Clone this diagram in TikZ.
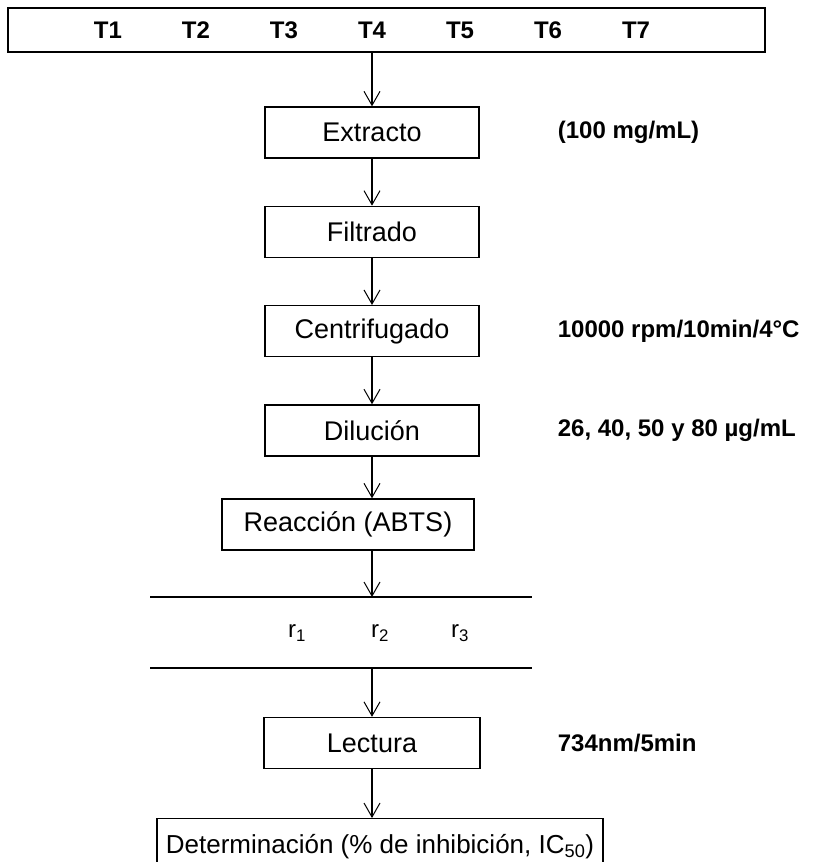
\documentclass[tikz,border=0pt]{standalone}
\usepackage{fontspec}
\setmainfont{Liberation Sans}
\usetikzlibrary{arrows.meta,positioning,calc}
\tikzset{
  stepbox/.style={rectangle, draw, line width=1.3pt, align=center, minimum height=51pt, minimum width=214pt, font=\fontsize{27}{32}\selectfont},
  sidenote/.style={anchor=west, inner sep=0pt, font=\bfseries\fontsize{24}{28}\selectfont},
  tlab/.style={font=\bfseries\fontsize{24}{28}\selectfont},
  rlab/.style={font=\fontsize{24}{28}\selectfont},
  arrow/.style={-{Straight Barb[length=14pt,width=16pt,line width=1pt]}, line width=1.1pt},
  rule/.style={line width=1.6pt}
}
\begin{document}
\begin{tikzpicture}[x=1pt, y=-1pt, node distance=47pt]
  \useasboundingbox (0,0) rectangle (816,862);
  % treatments
  \node[draw, line width=1.3pt, minimum width=757pt, minimum height=44pt] (trat) at (386.5,30) {};
  \foreach \i/\x in {1/108,2/196,3/284,4/372,5/460,6/548,7/636}
    \node[tlab] (t\i) at (\x,30) {T\i};
  % steps
  \node[stepbox] (ext) at (372,132.5) {Extracto};
  \node[stepbox, below=of ext] (fil) {Filtrado};
  \node[stepbox, below=of fil] (cen) {Centrifugado};
  \node[stepbox, below=of cen] (dil) {Dilución};
  \node[stepbox, minimum width=252pt] (reac) at (348,524.5) {Reacción (ABTS)};
  % replicates
  \coordinate (l1w) at (150,597);
  \coordinate (l1e) at (532,597);
  \coordinate (l2w) at (150,668);
  \coordinate (l2e) at (532,668);
  \draw[rule] (l1w) -- (l1e);
  \draw[rule] (l2w) -- (l2e);
  \node[rlab] (r1) at (297,633) {r\textsubscript{1}};
  \node[rlab] (r2) at (380,633) {r\textsubscript{2}};
  \node[rlab] (r3) at (460,633) {r\textsubscript{3}};
  \node[stepbox, minimum width=216pt] (lect) at (372,743) {Lectura};
  \node[stepbox, minimum width=446pt, minimum height=56pt, anchor=north, font=\fontsize{26}{31}\selectfont] (det) at (380,818) {Determinación (\% de inhibición, IC\textsubscript{50})};
  % conditions
  \node[sidenote, right=78pt of ext] (c1) {(100 mg/mL)};
  \node[sidenote, right=78pt of cen] (c2) {10000 rpm/10min/4°C};
  \node[sidenote, right=78pt of dil] (c3) {26, 40, 50 y 80 µg/mL};
  \node[sidenote, right=77pt of lect] (c4) {734nm/5min};
  % flow
  \draw[arrow] (trat.south -| ext.north) -- (ext.north);
  \draw[arrow] (ext) -- (fil);
  \draw[arrow] (fil) -- (cen);
  \draw[arrow] (cen) -- (dil);
  \draw[arrow] (dil.south) -- (dil.south |- reac.north);
  \draw[arrow] (reac.south -| dil.south) -- (l1w -| dil.south);
  \draw[arrow] (l2w -| lect.north) -- (lect.north);
  \draw[arrow] (lect.south) -- (lect.south |- det.north);
\end{tikzpicture}
\end{document}
